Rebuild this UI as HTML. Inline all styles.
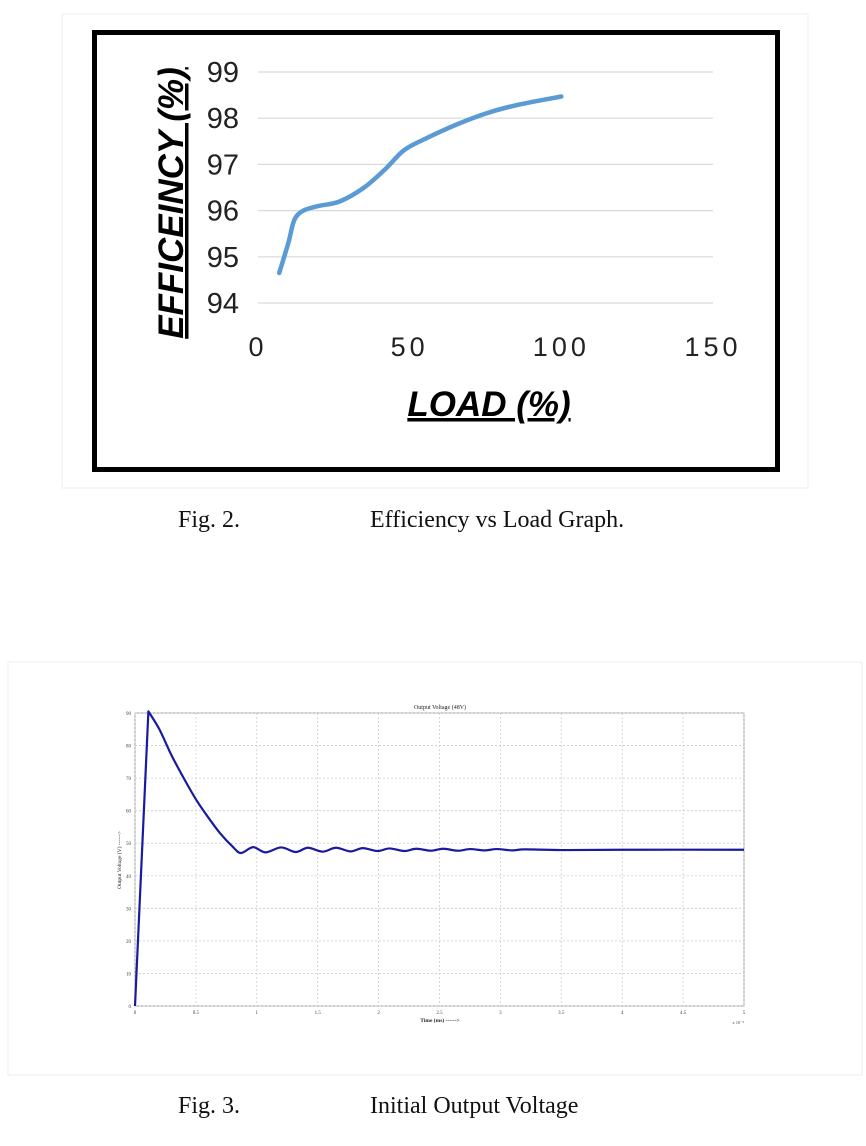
<!DOCTYPE html>
<html><head><meta charset="utf-8"><style>
body{margin:0;background:#fff;width:866px;height:1146px;position:relative;overflow:hidden;font-family:"Liberation Serif",serif}
.cap{position:absolute;font-size:24px;color:#111}
</style></head><body>
<svg width="866" height="1146" style="position:absolute;left:0;top:0">
<rect x="62" y="14" width="746" height="474" fill="none" stroke="#eee"/>
<rect x="94.5" y="32.5" width="683" height="437" fill="#fff" stroke="#000" stroke-width="5"/>
<g id="g1"></g>
<rect x="8" y="662" width="854" height="413" fill="none" stroke="#eee"/>
<g id="g2"></g>
</svg>
<div class="cap" style="left:178px;top:507px">Fig. 2.</div>
<div class="cap" style="left:370px;top:507px">Efficiency vs Load Graph.</div>
<div class="cap" style="left:178px;top:1093px">Fig. 3.</div>
<div class="cap" style="left:370px;top:1093px">Initial Output Voltage</div>
<script>
const loadX=[7,10,12,15,20,27,35,42,48,55,65,75,85,100];
const effY=[94.65,95.3,95.8,96.0,96.1,96.2,96.5,96.9,97.3,97.55,97.85,98.1,98.28,98.47];
const effTicks=[94,95,96,97,98,99];
const loadTicks=[0,50,100,150];
const timeX=[0,0.11,0.2,0.3,0.4,0.5,0.6,0.7,0.8,0.87,0.97,1.07,1.2,1.32,1.42,1.54,1.65,1.77,1.87,1.99,2.09,2.21,2.31,2.43,2.53,2.65,2.75,2.87,2.97,3.1,3.2,3.5,4,5];
const voltY=[0,90.5,85,77,70,63.5,58,53,49,47,48.8,47.2,48.7,47.3,48.6,47.4,48.6,47.5,48.5,47.6,48.4,47.6,48.3,47.7,48.3,47.7,48.2,47.8,48.2,47.8,48.1,47.9,48,48];
const voltTicks=[0,10,20,30,40,50,60,70,80,90];
const timeTicks=[0,0.5,1,1.5,2,2.5,3,3.5,4,4.5,5];
const NS='http://www.w3.org/2000/svg';
function mk(p,t,a){const e=document.createElementNS(NS,t);for(const k in a)e.setAttribute(k,a[k]);p.appendChild(e);return e;}
function smooth(pts,start){let d=start?'':'M'+pts[0][0]+','+pts[0][1];for(let i=0;i<pts.length-1;i++){const p0=pts[i-1]||pts[i],p1=pts[i],p2=pts[i+1],p3=pts[i+2]||p2;d+=' C'+(p1[0]+(p2[0]-p0[0])/6)+','+(p1[1]+(p2[1]-p0[1])/6)+' '+(p2[0]-(p3[0]-p1[0])/6)+','+(p2[1]-(p3[1]-p1[1])/6)+' '+p2[0]+','+p2[1];}return d;}
// chart 1
const g1=document.getElementById('g1');
const x1=v=>258+(v-0)*(713-258)/150, y1=v=>303-(v-94)*(303-72)/5;
effTicks.forEach(t=>{
 const l=mk(g1,'line',{x1:258,x2:713,y1:y1(t),y2:y1(t),stroke:'#d9d9d9','stroke-width':1.2});
 
 const tx=mk(g1,'text',{x:239,y:y1(t)+10,'text-anchor':'end','font-size':29,'font-family':'Liberation Sans, sans-serif',fill:'#222'});tx.textContent=t;
 
});
loadTicks.forEach(t=>{
 const tx=mk(g1,'text',{x:x1(t),y:356,'text-anchor':'middle','font-size':27,'letter-spacing':4,'font-family':'Liberation Sans, sans-serif',fill:'#222'});tx.textContent=t;
 
});
const p1=mk(g1,'path',{d:smooth(loadX.map((v,i)=>[x1(v),y1(effY[i])])),fill:'none',stroke:'#5b9bd5','stroke-width':4.5,'stroke-linecap':'round'});

let yt=mk(g1,'text',{x:0,y:0,transform:'translate(183,203) rotate(-90)','text-anchor':'middle','font-size':35,'font-weight':'bold','font-style':'italic','text-decoration':'underline','font-family':'Liberation Sans, sans-serif',fill:'#000'});yt.textContent='EFFICEINCY (%)';

let xt=mk(g1,'text',{x:489,y:416,'text-anchor':'middle','font-size':35,'font-weight':'bold','font-style':'italic','text-decoration':'underline','font-family':'Liberation Sans, sans-serif',fill:'#000'});xt.textContent='LOAD (%)';

// chart 2
const g2=document.getElementById('g2');
const x2=v=>135+v*(744-135)/5, y2=v=>1006-v*(1006-713)/90;
mk(g2,'rect',{x:135,y:713,width:609,height:293,fill:'#fff',stroke:'#888','stroke-width':0.8});
voltTicks.forEach(t=>{
 const l=mk(g2,'line',{x1:135,x2:744,y1:y2(t),y2:y2(t),stroke:'#ccc','stroke-width':0.8,'stroke-dasharray':'2,2'});
 
 const tx=mk(g2,'text',{x:131,y:y2(t)+2,'text-anchor':'end','font-size':5,fill:'#444'});tx.textContent=t;
 
});
timeTicks.forEach(t=>{
 const l=mk(g2,'line',{x1:x2(t),x2:x2(t),y1:713,y2:1006,stroke:'#ccc','stroke-width':0.8,'stroke-dasharray':'2,2'});
 
 const tx=mk(g2,'text',{x:x2(t),y:1014,'text-anchor':'middle','font-size':5,fill:'#444'});tx.textContent=t;
 
});
const vp=timeX.map((v,i)=>[x2(v),y2(voltY[i])]);
const vd='M'+vp[0][0]+','+vp[0][1]+' L'+vp[1][0]+','+vp[1][1]+smooth(vp.slice(1),true);
const p2=mk(g2,'path',{d:vd,fill:'none',stroke:'#1a1aa0','stroke-width':2.2,'stroke-linejoin':'round'});

let t2=mk(g2,'text',{x:440,y:709,'text-anchor':'middle','font-size':6,fill:'#222'});t2.textContent='Output Voltage (48V)';

let x2t=mk(g2,'text',{x:440,y:1022,'text-anchor':'middle','font-size':5.5,'font-weight':'bold',fill:'#222'});x2t.textContent='Time (ms) ------>';

let y2t=mk(g2,'text',{x:0,y:0,transform:'translate(121,860) rotate(-90)','text-anchor':'middle','font-size':5.5,fill:'#222'});y2t.textContent='Output Voltage (V) ------>';

let ex=mk(g2,'text',{x:744,y:1024,'text-anchor':'end','font-size':4.5,fill:'#444'});ex.textContent='x 10⁻³';

</script>
</body></html>
